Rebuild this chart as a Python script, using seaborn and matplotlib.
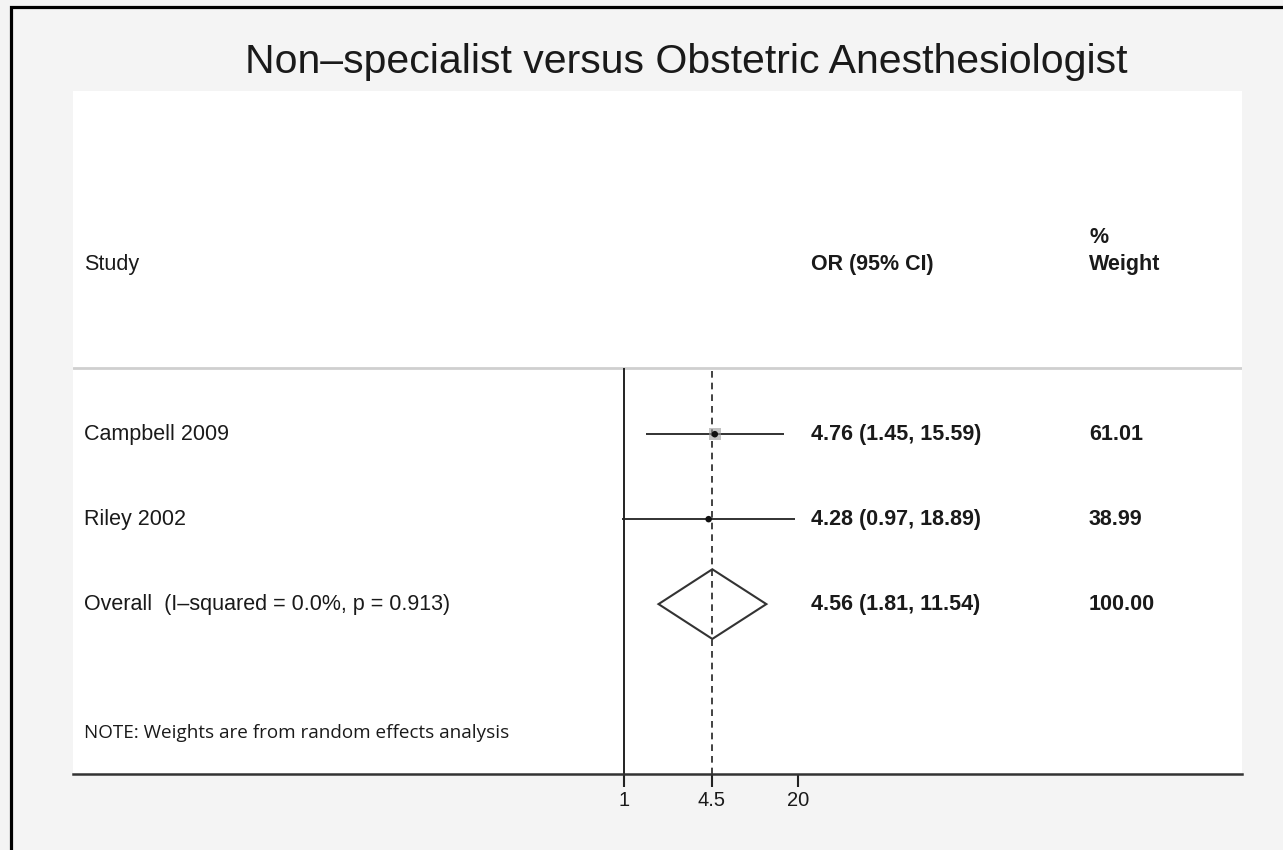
import numpy as np
import pandas as pd
import matplotlib
matplotlib.use("Agg")
import matplotlib.pyplot as plt
import matplotlib.transforms as mtransforms
from matplotlib.patches import Rectangle, Polygon
import seaborn as sns

# ------------------------------------------------------------
# Datos del forest plot
# ------------------------------------------------------------
studies = ["Campbell 2009", "Riley 2002"]
or_est = [4.76, 4.28]
ci_low = [1.45, 0.97]
ci_high = [15.59, 18.89]
weights = [61.01, 38.99]

overall_label = "Overall  (I\u2013squared = 0.0%, p = 0.913)"
overall_est = 4.56
overall_low = 1.81
overall_high = 11.54
overall_weight = 100.00

tick_values = [1, 4.5, 20]
tick_labels = ["1", "4.5", "20"]

title = "Non\u2013specialist versus Obstetric Anesthesiologist"
note = "NOTE: Weights are from random effects analysis"

df = pd.DataFrame({"study": studies, "or": or_est, "lo": ci_low,
                   "hi": ci_high, "w": weights})
df["row"] = np.arange(1, len(df) + 1)
overall_row = len(df) + 1

# ------------------------------------------------------------
# Figura
# ------------------------------------------------------------
sns.set_theme(style="white")
plt.rcParams['font.family'] = ['Liberation Sans', 'DejaVu Sans']

W, H = 1283, 850
fig = plt.figure(figsize=(W / 100, H / 100), dpi=100)
fig.patch.set_facecolor("#f4f4f4")

# borde negro exterior
fig.patches.append(Rectangle((11 / W, -0.2), 1.5, 1.2 - 7 / H,
                             transform=fig.transFigure, fill=False,
                             edgecolor="black", linewidth=2.3, zorder=0))

ax = fig.add_axes([73 / W, 1 - 774 / H, (1242 - 73) / W, (774 - 91) / H])
ax.set_facecolor("white")
ax.set_xscale("log")
px_per_ln = 58.2
ax.set_xlim(np.exp((73 - 624) / px_per_ln), np.exp((1242 - 624) / px_per_ln))
ax.set_ylim(5.0, -3.04)

sep_y = 0.224
ax.axhline(sep_y, color="#cfcfcf", lw=2, zorder=1)

# linea de no efecto y linea del efecto global
ax.vlines(1, sep_y, 5.0, color="#222222", lw=1.4, zorder=2)
ax.vlines(overall_est, sep_y + 0.03, 5.0, color="#222222", lw=1.2,
          linestyles=(0, (4, 3)), zorder=2)

# intervalos de confianza
ax.hlines(df["row"], df["lo"], df["hi"], color="#222222", lw=1.3, zorder=3)

# cajas de peso y puntos
sns.scatterplot(data=df.iloc[:1], x="or", y="row", marker="s", s=70,
                color="#9a9a9a", edgecolor="none", alpha=0.6, ax=ax,
                legend=False, zorder=4)
sns.scatterplot(data=df, x="or", y="row", marker="o", s=22, color="#111111",
                edgecolor="none", ax=ax, legend=False, zorder=5)

# diamante global
dh = 0.41
diamond = Polygon([(overall_low, overall_row), (overall_est, overall_row - dh),
                   (overall_high, overall_row), (overall_est, overall_row + dh)],
                  closed=True, fill=False, edgecolor="#333333", lw=1.5, zorder=4)
ax.add_patch(diamond)

# textos de columnas
trans = mtransforms.blended_transform_factory(ax.transAxes, ax.transData)
x_study = (84 - 73) / (1242 - 73)
x_or = (811 - 73) / (1242 - 73)
x_w = (1089 - 73) / (1242 - 73)
fs = 15.5
tc = "#1a1a1a"

ax.text(x_study, -1, "Study", transform=trans, va="center", fontsize=fs, color=tc)
ax.text(x_or, -1, "OR (95% CI)", transform=trans, va="center", fontsize=fs,
        color=tc, fontweight="bold")
ax.text(x_w, -1.31, "%", transform=trans, va="center", fontsize=fs,
        color=tc, fontweight="bold")
ax.text(x_w, -1, "Weight", transform=trans, va="center", fontsize=fs,
        color=tc, fontweight="bold")

for _, r in df.iterrows():
    ax.text(x_study, r["row"], r["study"], transform=trans, va="center",
            fontsize=fs, color=tc)
    ax.text(x_or, r["row"], f"{r['or']:.2f} ({r['lo']:.2f}, {r['hi']:.2f})",
            transform=trans, va="center", fontsize=fs, color=tc, fontweight="bold")
    ax.text(x_w, r["row"], f"{r['w']:.2f}", transform=trans, va="center",
            fontsize=fs, color=tc, fontweight="bold")

ax.text(x_study, overall_row, overall_label, transform=trans, va="center",
        fontsize=fs, color=tc)
ax.text(x_or, overall_row,
        f"{overall_est:.2f} ({overall_low:.2f}, {overall_high:.2f})",
        transform=trans, va="center", fontsize=fs, color=tc, fontweight="bold")
ax.text(x_w, overall_row, f"{overall_weight:.2f}", transform=trans,
        va="center", fontsize=fs, color=tc, fontweight="bold")

ax.text(x_study, 4.52, note, transform=trans, va="center", fontsize=13.6,
        color=tc, family=["Open Sans", "DejaVu Sans"])

# ejes
for side in ["top", "left", "right"]:
    ax.spines[side].set_visible(False)
ax.spines["bottom"].set_color("#333333")
ax.spines["bottom"].set_linewidth(1.8)
ax.set_yticks([])
ax.set_xticks(tick_values)
ax.set_xticklabels(tick_labels)
ax.xaxis.set_minor_locator(matplotlib.ticker.NullLocator())
ax.tick_params(axis="x", direction="out", length=9, width=1.5, color="#222222",
               labelsize=14.5, labelcolor=tc, bottom=True, pad=3)
ax.set_xlabel("")
ax.set_ylabel("")

fig.text(686 / W, 1 - 62 / H, title, ha="center", va="center", fontsize=29.5,
         color="#1a1a1a")

fig.savefig("out.png", dpi=100, facecolor=fig.get_facecolor())
